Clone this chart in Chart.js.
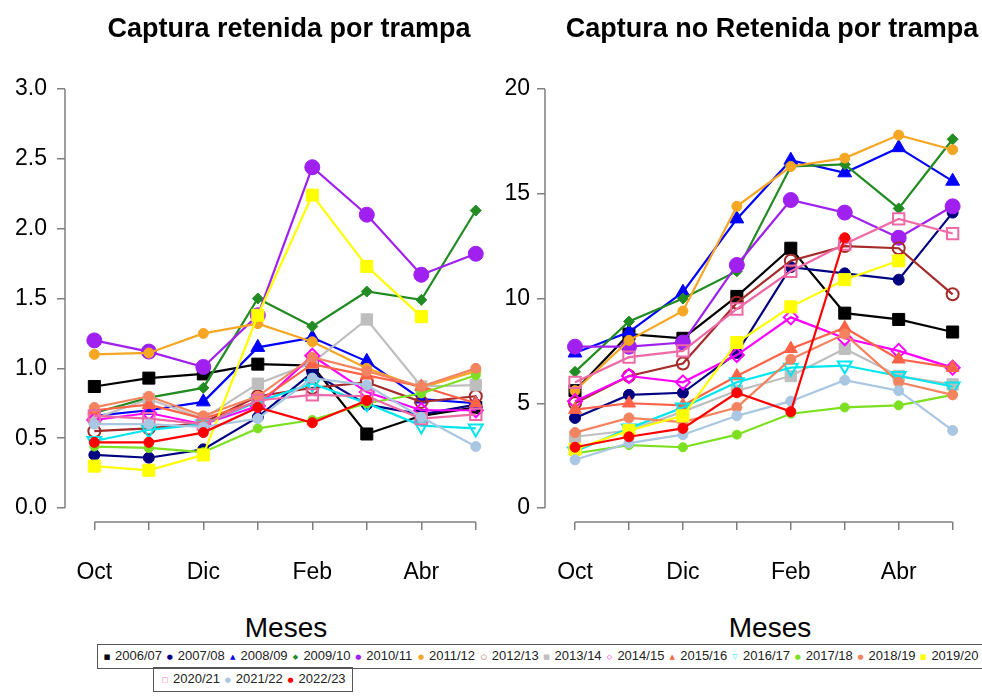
<!DOCTYPE html>
<html>
<head>
<meta charset="utf-8">
<script src="https://cdn.jsdelivr.net/npm/chart.js@4.4.0/dist/chart.umd.min.js"></script>
<style>
  body { margin: 0; background: #fff; width: 982px; height: 696px; overflow: hidden; position: relative;
         font-family: "Liberation Sans", Arial, sans-serif; }
  canvas { position: absolute; top: 0; }
  #retenida { left: 0; }
  #noRetenida { left: 491px; }
  .titulo { position: absolute; top: 13px; line-height: 30px; font-size: 27px; font-weight: bold;
            transform: translateX(-50%); white-space: nowrap; }
  .meses { position: absolute; top: 611px; line-height: 34px; font-size: 28px;
           transform: translateX(-50%); white-space: nowrap; }
  .caja { position: absolute; border: 1.5px solid #555; box-sizing: border-box; }
  .item { position: absolute; font-size: 13px; line-height: 16px; color: #222; white-space: nowrap; }
  .item span { display: inline-block; width: 8px; margin-right: 4px; font-family: "DejaVu Sans"; font-size: 7px;
               text-align: center; vertical-align: 1px; }
</style>
</head>
<body>
<canvas id="retenida" width="520" height="600"></canvas>
<canvas id="noRetenida" width="491" height="600"></canvas>
<div class="titulo" style="left:289px">Captura retenida por trampa</div>
<div class="titulo" style="left:772px">Captura no Retenida por trampa</div>
<div class="meses" style="left:286px">Meses</div>
<div class="meses" style="left:770px">Meses</div>
<div class="caja" style="left:97px;top:644px;width:940px;height:25px"></div>
<div class="caja" style="left:153px;top:667px;width:200px;height:25px"></div>
<div id="leyenda"></div>
<script>
const meses = ["Oct", "Nov", "Dic", "Ene", "Feb", "Mar", "Abr", "May"];
const temporadas = ["2006/07", "2007/08", "2008/09", "2009/10", "2010/11", "2011/12", "2012/13", "2013/14",
  "2014/15", "2015/16", "2016/17", "2017/18", "2018/19", "2019/20", "2020/21", "2021/22", "2022/23"];

// captura retenida por trampa, una fila por temporada (Oct..May)
const retenida = [
  [0.87, 0.93, 0.96, 1.03, 1.02, 0.53, 0.66, 0.72],
  [0.38, 0.36, 0.42, 0.65, 0.97, 0.74, 0.67, 0.74],
  [0.66, 0.70, 0.76, 1.15, 1.22, 1.05, 0.78, 0.75],
  [0.68, 0.79, 0.86, 1.50, 1.30, 1.55, 1.49, 2.13],
  [1.20, 1.12, 1.01, 1.38, 2.44, 2.10, 1.67, 1.82],
  [1.10, 1.11, 1.25, 1.32, 1.19, 1.00, 0.86, 0.98],
  [0.55, 0.57, 0.61, 0.80, 0.86, 0.90, 0.76, 0.80],
  [0.64, 0.78, 0.64, 0.89, 1.04, 1.35, 0.87, 0.88],
  [0.63, 0.68, 0.60, 0.73, 1.09, 0.83, 0.70, 0.70],
  [0.70, 0.74, 0.64, 0.76, 1.03, 0.95, 0.87, 0.75],
  [0.48, 0.56, 0.60, 0.76, 0.89, 0.75, 0.59, 0.57],
  [0.44, 0.43, 0.40, 0.57, 0.63, 0.75, 0.82, 0.95],
  [0.72, 0.80, 0.66, 0.80, 1.08, 0.98, 0.87, 1.00],
  [0.30, 0.27, 0.38, 1.38, 2.24, 1.73, 1.37, null],
  [0.66, 0.64, 0.60, 0.77, 0.81, 0.80, 0.64, 0.67],
  [0.60, 0.60, 0.58, 0.64, 0.93, 0.88, 0.65, 0.44],
  [0.47, 0.47, 0.54, 0.72, 0.61, 0.77, null, null]
];

// captura no retenida por trampa
const noRetenida = [
  [5.6, 8.3, 8.1, 10.1, 12.4, 9.3, 9.0, 8.4],
  [4.3, 5.4, 5.5, 7.4, 11.5, 11.2, 10.9, 14.1],
  [7.4, 8.4, 10.3, 13.8, 16.6, 16.0, 17.2, 15.6],
  [6.5, 8.9, 10.0, 11.3, 16.3, 16.4, 14.3, 17.6],
  [7.7, 7.7, 7.9, 11.6, 14.7, 14.1, 12.9, 14.4],
  [5.6, 8.0, 9.4, 14.4, 16.3, 16.7, 17.8, 17.1],
  [5.0, 6.3, 6.9, 9.8, 11.8, 12.5, 12.4, 10.2],
  [3.4, 3.7, 4.6, 5.6, 6.3, 7.6, 6.3, 5.9],
  [5.1, 6.3, 6.0, 7.3, 9.1, 8.1, 7.5, 6.7],
  [4.7, 5.0, 4.9, 6.3, 7.6, 8.6, 7.1, 6.7],
  [2.7, 3.8, 4.8, 6.0, 6.7, 6.8, 6.3, 5.8],
  [2.6, 3.0, 2.9, 3.5, 4.5, 4.8, 4.9, 5.4],
  [3.6, 4.3, 4.1, 4.8, 7.1, 8.3, 6.0, 5.4],
  [2.8, 3.7, 4.4, 7.9, 9.6, 10.9, 11.8, null],
  [6.0, 7.2, 7.5, 9.5, 11.3, 12.6, 13.8, 13.1],
  [2.3, 3.1, 3.5, 4.4, 5.1, 6.1, 5.6, 3.7],
  [2.9, 3.4, 3.8, 5.5, 4.6, 12.9, null, null]
];

const ticksRetenida = [0, 0.5, 1, 1.5, 2, 2.5, 3];
const ticksNoRetenida = [0, 5, 10, 15, 20];

// estilo de cada temporada: color, forma, radio, relleno
const estilos = [
  { c: "#000000", s: "rect", r: 8.5, f: true, g: "■" },
  { c: "#000080", s: "circle", r: 5.5, f: true, g: "●" },
  { c: "#0000FF", s: "triangle", r: 8, f: true, g: "▲" },
  { c: "#228B22", s: "rectRot", r: 5.5, f: true, g: "◆" },
  { c: "#A020F0", s: "circle", r: 7.5, f: true, g: "●" },
  { c: "#F5A623", s: "circle", r: 5, f: true, g: "●" },
  { c: "#A52A2A", s: "circle", r: 6, f: false, g: "○" },
  { c: "#BEBEBE", s: "rect", r: 8, f: true, g: "■" },
  { c: "#FF00FF", s: "rectRot", r: 7, f: false, g: "◇" },
  { c: "#FF6347", s: "triangle", r: 7.5, f: true, g: "▲" },
  { c: "#00E5EE", s: "triangle", r: 8, f: false, rot: 180, g: "▽" },
  { c: "#7CE020", s: "circle", r: 4.5, f: true, g: "●" },
  { c: "#F4845F", s: "circle", r: 5, f: true, g: "●" },
  { c: "#FFFF00", s: "rect", r: 8.5, f: true, g: "■" },
  { c: "#EE6AA7", s: "rect", r: 8, f: false, g: "□" },
  { c: "#A9C6E2", s: "circle", r: 5, f: true, g: "●" },
  { c: "#FF0000", s: "circle", r: 5, f: true, g: "●" }
];

const fuente = "'Liberation Sans', Arial, sans-serif";

const ejes = {
  id: "ejes",
  afterDraw(chart) {
    const { ctx, chartArea, scales: { x, y } } = chart;
    const yt = y.ticks, xt = x.ticks;
    ctx.save();
    ctx.strokeStyle = "#7f7f7f";
    ctx.lineWidth = 1.5;
    ctx.beginPath();
    ctx.moveTo(chartArea.left, y.getPixelForValue(yt[0].value));
    ctx.lineTo(chartArea.left, y.getPixelForValue(yt[yt.length - 1].value));
    ctx.moveTo(x.getPixelForValue(xt[0].value), chartArea.bottom);
    ctx.lineTo(x.getPixelForValue(xt[xt.length - 1].value), chartArea.bottom);
    ctx.stroke();
    ctx.restore();
  }
};

function grafico(id, valores, ticks, decimales, xMin, xMax, yMin, yMax, anchoY, padY) {
  new Chart(document.getElementById(id), {
    type: "line",
    data: {
      datasets: temporadas.map((t, i) => {
        const e = estilos[i];
        return {
          label: t,
          data: valores[i].map((v, j) => ({ x: j, y: v })),
          borderColor: e.c,
          borderWidth: 2.2,
          pointStyle: e.s,
          pointRadius: e.r,
          pointRotation: e.rot || 0,
          pointBackgroundColor: e.f ? e.c : "rgba(255,255,255,0)",
          pointBorderColor: e.c,
          pointBorderWidth: e.f ? 1 : 2,
          tension: 0,
          spanGaps: false,
          clip: false,
          order: temporadas.length - i
        };
      })
    },
    options: {
      responsive: false,
      animation: false,
      events: [],
      layout: { padding: { top: 75, left: 0, right: 0, bottom: 0 } },
      plugins: { legend: { display: false }, tooltip: { enabled: false } },
      scales: {
        x: {
          type: "linear", min: xMin, max: xMax,
          afterBuildTicks: s => { s.ticks = meses.map((m, j) => ({ value: j })); },
          afterFit: s => { s.height = 78; },
          border: { display: false },
          grid: { drawOnChartArea: false, drawTicks: true, tickLength: 8, color: "#7f7f7f", lineWidth: 1.5 },
          ticks: {
            autoSkip: false, maxRotation: 0, padding: 29, color: "#000",
            font: { size: 23, family: fuente },
            callback: v => (v % 2 === 0 ? meses[v] : "")
          }
        },
        y: {
          type: "linear", min: yMin, max: yMax,
          afterBuildTicks: s => { s.ticks = ticks.map(v => ({ value: v })); },
          afterFit: s => { s.width = anchoY; },
          border: { display: false },
          grid: { drawOnChartArea: false, drawTicks: true, tickLength: 8, color: "#7f7f7f", lineWidth: 1.5 },
          ticks: {
            padding: padY, color: "#000",
            font: { size: 23, family: fuente },
            callback: v => v.toFixed(decimales)
          }
        }
      }
    },
    plugins: [ejes]
  });
}

grafico("retenida", retenida, ticksRetenida, 1, -0.5385, 7.628, -0.1002, 3.1002, 65, 10);
grafico("noRetenida", noRetenida, ticksNoRetenida, 0, -0.5564, 7.287, -0.668, 20.668, 54, 7);

// leyenda
const leyenda = document.getElementById("leyenda");
temporadas.forEach((t, i) => {
  const fila = i < 14 ? 0 : 1;
  const col = i < 14 ? i : i - 14;
  const x0 = fila === 0 ? 107 : 165;
  const d = document.createElement("div");
  d.className = "item";
  d.style.left = (x0 + col * 62.8 - 4) + "px";
  d.style.top = (fila === 0 ? 648 : 671) + "px";
  d.innerHTML = '<span style="color:' + estilos[i].c + '">' + estilos[i].g + "</span>" + t;
  leyenda.appendChild(d);
});
</script>
</body>
</html>
